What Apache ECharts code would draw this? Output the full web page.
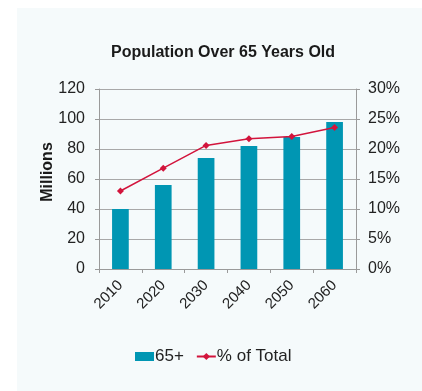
<!DOCTYPE html>
<html>
<head>
<meta charset="utf-8">
<script src="https://cdn.jsdelivr.net/npm/echarts@6/dist/echarts.min.js"></script>
<style>
  html, body { margin: 0; padding: 0; background: #fff; }
  #chart { width: 422px; height: 391px; }
</style>
</head>
<body>
<div id="chart"></div>
<script>
// data
const years = ['2010', '2020', '2030', '2040', '2050', '2060']
const popMillions = [40, 56, 74, 82, 88, 98]
const pctOfTotal = [13.0, 16.8, 20.6, 21.7, 22.1, 23.6]
const leftTicks = { min: 0, max: 120, interval: 20 }
const rightTicks = { min: 0, max: 30, interval: 5 }

const font = '"Liberation Sans", Arial, sans-serif'
const gridColor = '#a8a8a8'
const axisColor = '#9a9a9a'

const chart = echarts.init(document.getElementById('chart'))

chart.setOption({
  backgroundColor: '#fff',
  animation: false,
  textStyle: { fontFamily: font },
  graphic: [{
    type: 'rect',
    z: -10,
    shape: { x: 17, y: 8, width: 405, height: 383 },
    style: { fill: '#f5fafb' },
  }],
  title: {
    text: 'Population Over 65 Years Old',
    left: 106,
    top: 40,
    textStyle: { fontFamily: font, fontSize: 16, fontWeight: 'bold', color: '#1a1a1a' },
  },
  grid: { left: 99, right: 66, top: 89, bottom: 122, containLabel: false },
  legend: {
    bottom: 21,
    left: 130,
    itemGap: 12,
    itemWidth: 19,
    itemHeight: 9,
    textStyle: { fontFamily: font, fontSize: 17, color: '#222', padding: [0, 0, 0, -4] },
    data: [
      { name: '65+', icon: 'rect' },
      { name: '% of Total' },
    ],
  },
  xAxis: {
    type: 'category',
    data: years,
    boundaryGap: true,
    axisLine: { lineStyle: { color: axisColor } },
    axisTick: { show: true, length: 4, lineStyle: { color: axisColor } },
    axisLabel: { rotate: 45, fontSize: 15, color: '#222', margin: 14, fontFamily: font },
  },
  yAxis: [
    {
      type: 'value',
      min: leftTicks.min,
      max: leftTicks.max,
      interval: leftTicks.interval,
      name: 'Millions',
      nameLocation: 'middle',
      nameGap: 43,
      nameMoveOverlap: false,
      nameTextStyle: { fontFamily: font, fontSize: 16, fontWeight: 'bold', color: '#1a1a1a', padding: [0, 0, 0, 14] },
      axisLine: { show: true, lineStyle: { color: axisColor } },
      axisTick: { show: true, length: 4, lineStyle: { color: axisColor } },
      axisLabel: { fontSize: 16, color: '#222', margin: 14, fontFamily: font },
      splitLine: { show: true, lineStyle: { color: gridColor, width: 1 } },
    },
    {
      type: 'value',
      min: rightTicks.min,
      max: rightTicks.max,
      interval: rightTicks.interval,
      position: 'right',
      axisLine: { show: true, lineStyle: { color: axisColor } },
      axisTick: { show: true, length: 4, lineStyle: { color: axisColor } },
      axisLabel: { fontSize: 16, color: '#222', margin: 12, formatter: '{value}%', fontFamily: font },
      splitLine: { show: false },
    },
  ],
  series: [
    {
      name: '65+',
      type: 'bar',
      data: popMillions,
      barWidth: '39%',
      itemStyle: { color: '#0096b3' },
    },
    {
      name: '% of Total',
      type: 'line',
      yAxisIndex: 1,
      data: pctOfTotal,
      symbol: 'diamond',
      symbolSize: 7,
      lineStyle: { color: '#d2143c', width: 1.5 },
      itemStyle: { color: '#d2143c' },
    },
  ],
})
</script>
</body>
</html>
